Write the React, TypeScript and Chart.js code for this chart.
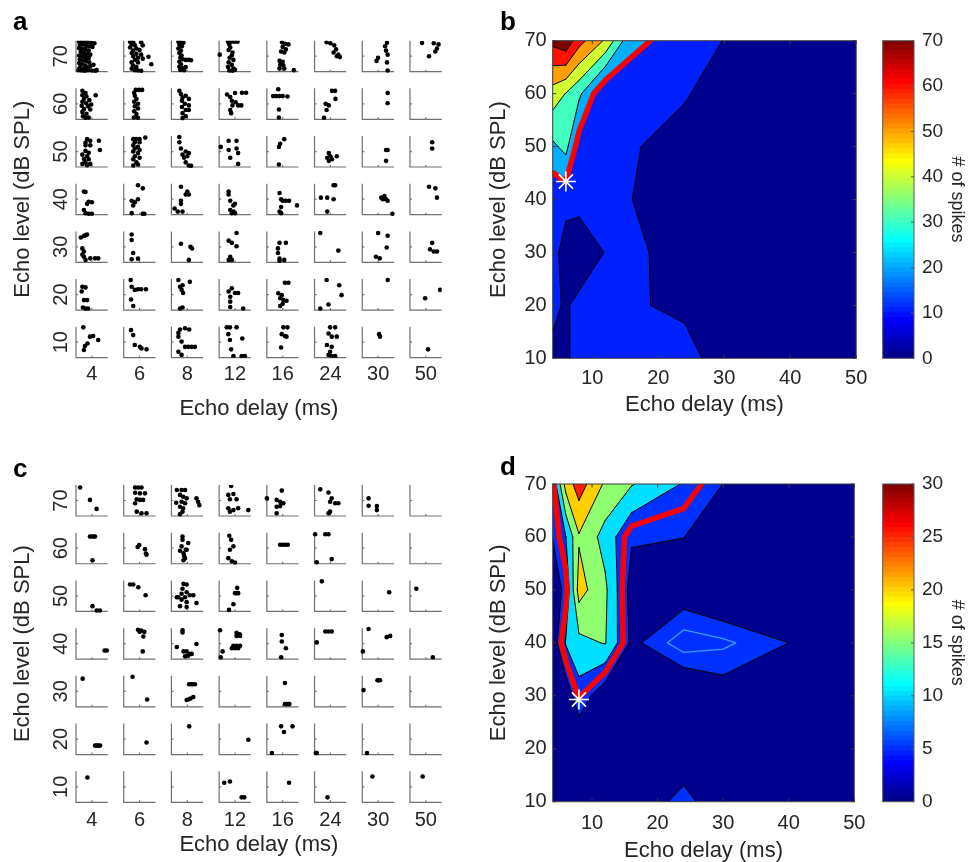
import React, { useEffect, useRef } from "react";
import { Chart, registerables } from "chart.js";
Chart.register(...registerables);

const FONT = '"Liberation Sans", Arial, Helvetica, sans-serif';
const INK = "#262626";
Chart.defaults.font.family = FONT;
Chart.defaults.color = INK;

// ---------------- Raster panels (a, c) ----------------
const delayLabels = ["4", "6", "8", "12", "16", "24", "30", "50"];
const levelLabels = ["10", "20", "30", "40", "50", "60", "70"];
type Pt = [number, number];
// each row: 8 cells (echo delays), each cell: spikes as [time fraction, trial fraction]
const rasterA70: Pt[][] = [
  [[0.1,0.97],[0.18,0.95],[0.28,0.97],[0.38,0.95],[0.48,0.93],[0.58,0.92],[0.12,0.86],[0.22,0.88],[0.32,0.84],[0.42,0.82],[0.52,0.8],[0.1,0.76],[0.2,0.74],[0.3,0.72],[0.4,0.68],[0.15,0.64],[0.25,0.6],[0.35,0.58],[0.45,0.55],[0.1,0.52],[0.2,0.5],[0.3,0.47],[0.4,0.44],[0.12,0.4],[0.22,0.37],[0.32,0.34],[0.42,0.3],[0.1,0.28],[0.2,0.24],[0.3,0.2],[0.45,0.18],[0.55,0.22],[0.12,0.14],[0.25,0.1],[0.38,0.12],[0.08,0.05],[0.18,0.04],[0.28,0.03],[0.38,0.05],[0.5,0.04],[0.6,0.03],[0.65,0.05]],
  [[0.2,0.97],[0.3,0.95],[0.25,0.88],[0.35,0.85],[0.55,0.95],[0.6,0.85],[0.2,0.78],[0.4,0.75],[0.3,0.68],[0.5,0.7],[0.25,0.6],[0.4,0.58],[0.55,0.55],[0.3,0.5],[0.45,0.45],[0.78,0.48],[0.6,0.42],[0.35,0.38],[0.25,0.3],[0.45,0.3],[0.87,0.24],[0.3,0.2],[0.4,0.15],[0.25,0.1],[0.35,0.05],[0.45,0.04],[0.55,0.03]],
  [[0.22,0.97],[0.3,0.95],[0.38,0.93],[0.25,0.87],[0.33,0.82],[0.22,0.75],[0.3,0.68],[0.25,0.6],[0.32,0.52],[0.28,0.45],[0.35,0.4],[0.45,0.38],[0.55,0.38],[0.62,0.37],[0.25,0.32],[0.3,0.24],[0.25,0.16],[0.35,0.12],[0.28,0.06],[0.4,0.05],[0.45,0.15]],
  [[0.02,0.55],[0.28,0.97],[0.38,0.97],[0.48,0.97],[0.58,0.97],[0.32,0.88],[0.35,0.78],[0.3,0.7],[0.42,0.62],[0.4,0.52],[0.33,0.45],[0.45,0.38],[0.3,0.3],[0.4,0.22],[0.28,0.15],[0.45,0.1],[0.32,0.04],[0.42,0.03],[0.5,0.06]],
  [[0.48,0.95],[0.58,0.9],[0.68,0.88],[0.5,0.8],[0.6,0.72],[0.45,0.65],[0.55,0.62],[0.4,0.35],[0.5,0.32],[0.42,0.22],[0.52,0.2],[0.4,0.1],[0.55,0.1],[0.85,0.05]],
  [[0.38,0.95],[0.5,0.92],[0.62,0.85],[0.68,0.72],[0.6,0.62],[0.7,0.5],[0.8,0.47],[0.75,0.55]],
  [[0.78,0.93],[0.72,0.82],[0.75,0.68],[0.8,0.55],[0.5,0.45],[0.45,0.35],[0.78,0.3],[0.8,0.04]],
  [[0.38,0.93],[0.75,0.92],[0.9,0.88],[0.85,0.75],[0.8,0.65],[0.6,0.5]],
];
const rasterA60: Pt[][] = [
  [[0.2,0.92],[0.3,0.85],[0.2,0.78],[0.33,0.74],[0.62,0.78],[0.25,0.66],[0.42,0.62],[0.2,0.57],[0.32,0.52],[0.48,0.48],[0.18,0.44],[0.38,0.42],[0.25,0.33],[0.45,0.32],[0.2,0.24],[0.33,0.18],[0.22,0.1],[0.3,0.05],[0.4,0.06]],
  [[0.38,0.95],[0.48,0.95],[0.58,0.95],[0.33,0.86],[0.35,0.76],[0.4,0.66],[0.33,0.57],[0.45,0.5],[0.35,0.42],[0.45,0.35],[0.33,0.26],[0.4,0.17],[0.32,0.06],[0.45,0.05]],
  [[0.25,0.92],[0.3,0.82],[0.45,0.76],[0.35,0.7],[0.55,0.66],[0.33,0.6],[0.42,0.5],[0.55,0.45],[0.33,0.4],[0.45,0.3],[0.55,0.3],[0.35,0.2],[0.45,0.1],[0.35,0.04]],
  [[0.25,0.8],[0.35,0.72],[0.5,0.85],[0.72,0.86],[0.85,0.86],[0.4,0.6],[0.52,0.55],[0.6,0.45],[0.7,0.45],[0.42,0.45],[0.35,0.3],[0.38,0.2]],
  [[0.36,0.97],[0.2,0.75],[0.3,0.75],[0.4,0.75],[0.5,0.75],[0.65,0.74],[0.38,0.32],[0.38,0.06]],
  [[0.55,0.92],[0.65,0.92],[0.66,0.66],[0.35,0.5],[0.45,0.45],[0.38,0.3],[0.3,0.05]],
  [[0.8,0.85],[0.8,0.52]],
  [],
];
const rasterA50: Pt[][] = [
  [[0.35,0.9],[0.45,0.85],[0.3,0.78],[0.72,0.85],[0.3,0.7],[0.45,0.7],[0.75,0.55],[0.3,0.52],[0.4,0.46],[0.2,0.4],[0.35,0.35],[0.25,0.26],[0.4,0.25],[0.3,0.15],[0.2,0.1],[0.35,0.06],[0.45,0.1]],
  [[0.3,0.9],[0.4,0.9],[0.5,0.9],[0.68,0.95],[0.35,0.8],[0.5,0.8],[0.3,0.7],[0.45,0.65],[0.35,0.6],[0.5,0.55],[0.3,0.5],[0.45,0.45],[0.35,0.35],[0.5,0.3],[0.3,0.25],[0.4,0.15],[0.3,0.05],[0.45,0.08]],
  [[0.25,0.97],[0.25,0.8],[0.3,0.6],[0.45,0.5],[0.55,0.45],[0.35,0.4],[0.5,0.35],[0.4,0.3],[0.45,0.15],[0.55,0.05],[0.62,0.04]],
  [[0.05,0.65],[0.3,0.85],[0.55,0.85],[0.3,0.55],[0.55,0.6],[0.6,0.45],[0.35,0.3],[0.6,0.1]],
  [[0.55,0.9],[0.42,0.75],[0.38,0.65],[0.38,0.08]],
  [[0.45,0.45],[0.5,0.35],[0.4,0.3],[0.55,0.25],[0.7,0.35],[0.45,0.2]],
  [[0.75,0.55],[0.8,0.55],[0.75,0.2]],
  [[0.7,0.8],[0.7,0.6]],
];
const rasterA40: Pt[][] = [
  [[0.25,0.75],[0.3,0.73],[0.4,0.42],[0.5,0.4],[0.35,0.35],[0.25,0.15],[0.3,0.05],[0.4,0.03],[0.5,0.03]],
  [[0.45,0.95],[0.6,0.85],[0.25,0.45],[0.35,0.4],[0.3,0.3],[0.25,0.05],[0.6,0.03],[0.65,0.03],[0.45,0.5]],
  [[0.3,0.9],[0.5,0.75],[0.45,0.65],[0.55,0.65],[0.3,0.45],[0.3,0.35],[0.1,0.2],[0.2,0.1],[0.35,0.1]],
  [[0.3,0.75],[0.3,0.65],[0.35,0.45],[0.45,0.3],[0.5,0.35],[0.35,0.15],[0.4,0.05],[0.5,0.05],[0.45,0.1]],
  [[0.4,0.7],[0.45,0.5],[0.5,0.45],[0.6,0.45],[0.7,0.45],[0.95,0.3],[0.45,0.25],[0.4,0.1],[0.45,0.05]],
  [[0.2,0.55],[0.4,0.55],[0.6,0.5],[0.6,0.95],[0.65,0.95],[0.4,0.1]],
  [[0.6,0.55],[0.7,0.6],[0.75,0.5],[0.8,0.45],[0.65,0.5],[0.95,0.03]],
  [[0.6,0.9],[0.8,0.85],[0.85,0.55]],
];
const rasterA30: Pt[][] = [
  [[0.15,0.8],[0.25,0.85],[0.3,0.88],[0.35,0.9],[0.2,0.45],[0.25,0.35],[0.2,0.25],[0.3,0.08],[0.45,0.13],[0.6,0.13],[0.7,0.13],[0.25,0.18]],
  [[0.25,0.9],[0.25,0.72],[0.3,0.3],[0.25,0.1],[0.45,0.12]],
  [[0.3,0.6],[0.6,0.5],[0.65,0.45],[0.55,0.08]],
  [[0.55,0.95],[0.3,0.7],[0.4,0.63],[0.55,0.52],[0.35,0.18],[0.3,0.08],[0.4,0.08]],
  [[0.4,0.63],[0.6,0.63],[0.35,0.45],[0.35,0.3],[0.4,0.12],[0.55,0.08],[0.4,0.05]],
  [[0.18,0.95],[0.75,0.38]],
  [[0.5,0.95],[0.8,0.86],[0.77,0.48],[0.43,0.18],[0.55,0.13]],
  [[0.7,0.63],[0.63,0.42],[0.75,0.35],[0.85,0.35]],
];
const rasterA20: Pt[][] = [
  [[0.2,0.75],[0.3,0.73],[0.18,0.6],[0.25,0.32],[0.35,0.32],[0.22,0.08],[0.3,0.05],[0.38,0.05]],
  [[0.22,0.97],[0.25,0.75],[0.35,0.65],[0.45,0.67],[0.55,0.67],[0.7,0.67],[0.23,0.34],[0.3,0.13]],
  [[0.22,0.97],[0.58,0.91],[0.27,0.75],[0.35,0.8],[0.32,0.65],[0.37,0.55],[0.27,0.05],[0.35,0.08]],
  [[0.3,0.6],[0.4,0.7],[0.5,0.55],[0.6,0.55],[0.35,0.43],[0.35,0.27],[0.35,0.1],[0.76,0.05]],
  [[0.57,0.88],[0.68,0.88],[0.36,0.54],[0.47,0.48],[0.42,0.38],[0.52,0.32],[0.62,0.3],[0.42,0.13],[0.5,0.2]],
  [[0.38,0.97],[0.78,0.8],[0.85,0.48],[0.44,0.18],[0.18,0.05]],
  [[0.8,0.97]],
  [[0.48,0.38],[0.95,0.65]],
];
const rasterA10: Pt[][] = [
  [[0.23,0.98],[0.44,0.68],[0.54,0.7],[0.7,0.57],[0.36,0.46],[0.28,0.38],[0.25,0.25]],
  [[0.23,0.89],[0.3,0.73],[0.35,0.41],[0.51,0.35],[0.56,0.3],[0.72,0.27]],
  [[0.27,0.91],[0.43,0.95],[0.56,0.91],[0.22,0.8],[0.22,0.68],[0.32,0.52],[0.43,0.35],[0.53,0.35],[0.64,0.35],[0.74,0.35],[0.22,0.19],[0.32,0.09]],
  [[0.24,0.98],[0.34,0.98],[0.55,0.98],[0.29,0.76],[0.34,0.57],[0.73,0.62],[0.38,0.27],[0.45,0.05],[0.71,0.05],[0.81,0.05]],
  [[0.52,0.98],[0.65,0.98],[0.47,0.76],[0.57,0.7],[0.62,0.68],[0.45,0.33]],
  [[0.49,0.98],[0.65,0.98],[0.44,0.78],[0.54,0.68],[0.7,0.68],[0.39,0.41],[0.54,0.35],[0.49,0.19],[0.44,0.09],[0.54,0.05],[0.65,0.05]],
  [[0.53,0.76],[0.56,0.68]],
  [[0.57,0.27]],
];
const rasterA = [rasterA10, rasterA20, rasterA30, rasterA40, rasterA50, rasterA60, rasterA70];

const rasterC70: Pt[][] = [
  [[0.13,0.92],[0.44,0.52],[0.65,0.23]],
  [[0.36,0.92],[0.46,0.92],[0.56,0.92],[0.36,0.75],[0.51,0.73],[0.67,0.73],[0.41,0.54],[0.51,0.52],[0.61,0.52],[0.36,0.41],[0.41,0.14],[0.56,0.09],[0.72,0.09]],
  [[0.17,0.84],[0.32,0.84],[0.43,0.84],[0.27,0.68],[0.37,0.62],[0.48,0.57],[0.15,0.43],[0.32,0.46],[0.43,0.41],[0.27,0.3],[0.37,0.25],[0.35,0.14],[0.27,0.06],[0.79,0.57],[0.84,0.46],[0.88,0.35]],
  [[0.38,0.97],[0.29,0.68],[0.45,0.71],[0.34,0.54],[0.55,0.54],[0.29,0.25],[0.34,0.14],[0.45,0.19],[0.6,0.25],[0.92,0.19]],
  [[0.0,0.57],[0.47,0.82],[0.31,0.52],[0.42,0.46],[0.52,0.41],[0.31,0.3],[0.42,0.32],[0.31,0.09]],
  [[0.18,0.86],[0.44,0.76],[0.54,0.57],[0.49,0.46],[0.65,0.41],[0.75,0.41],[0.49,0.14],[0.44,0.09]],
  [[0.2,0.57],[0.2,0.33],[0.46,0.32],[0.46,0.19]],
  [],
];
const rasterC60: Pt[][] = [
  [[0.44,0.88],[0.5,0.88],[0.56,0.88],[0.6,0.88],[0.52,0.11]],
  [[0.49,0.6],[0.44,0.54],[0.67,0.47],[0.72,0.29],[0.7,0.33]],
  [[0.35,0.88],[0.35,0.77],[0.53,0.67],[0.32,0.56],[0.48,0.45],[0.27,0.42],[0.38,0.34],[0.4,0.25],[0.43,0.18],[0.38,0.11],[0.45,0.45]],
  [[0.32,0.9],[0.38,0.77],[0.45,0.56],[0.34,0.45],[0.29,0.18],[0.4,0.08],[0.5,0.04]],
  [[0.42,0.61],[0.5,0.61],[0.58,0.61],[0.66,0.61]],
  [[0.02,0.95],[0.34,0.95],[0.44,0.95],[0.07,0.05],[0.54,0.15]],
  [],
  [],
];
const rasterC50: Pt[][] = [
  [[0.52,0.17],[0.65,0.03],[0.75,0.03]],
  [[0.2,0.87],[0.3,0.87],[0.46,0.78],[0.69,0.52]],
  [[0.38,0.89],[0.48,0.87],[0.35,0.73],[0.48,0.62],[0.32,0.57],[0.43,0.46],[0.22,0.46],[0.58,0.52],[0.69,0.52],[0.32,0.38],[0.48,0.3],[0.79,0.27],[0.27,0.17],[0.48,0.14],[0.17,0.46]],
  [[0.57,0.76],[0.5,0.59],[0.6,0.59],[0.55,0.59],[0.45,0.23],[0.31,0.05]],
  [],
  [[0.23,0.97]],
  [[0.85,0.62]],
  [[0.2,0.73]],
];
const rasterC40: Pt[][] = [
  [[0.9,0.28],[0.97,0.28]],
  [[0.45,0.95],[0.55,0.92],[0.65,0.88],[0.5,0.88],[0.62,0.73],[0.6,0.25]],
  [[0.35,0.93],[0.35,0.86],[0.17,0.39],[0.38,0.25],[0.48,0.25],[0.56,0.17],[0.64,0.17],[0.43,0.09],[0.53,0.11],[0.79,0.49]],
  [[0.03,0.93],[0.55,0.85],[0.65,0.8],[0.55,0.75],[0.66,0.75],[0.45,0.43],[0.55,0.43],[0.66,0.43],[0.4,0.35],[0.5,0.35],[0.6,0.35],[0.11,0.25],[0.05,0.06]],
  [[0.47,0.78],[0.47,0.57],[0.6,0.35],[0.45,0.06]],
  [[0.07,0.54],[0.34,0.89],[0.44,0.89],[0.54,0.89]],
  [[0.2,0.97],[0.77,0.71],[0.88,0.75],[0.02,0.25]],
  [[0.72,0.06]],
];
const rasterC30: Pt[][] = [
  [[0.21,0.91]],
  [[0.28,0.97],[0.74,0.24]],
  [[0.56,0.73],[0.62,0.73],[0.67,0.73],[0.74,0.73],[0.48,0.22],[0.53,0.24],[0.6,0.27],[0.69,0.32]],
  [],
  [[0.57,0.77],[0.57,0.09],[0.62,0.09],[0.67,0.09],[0.71,0.09]],
  [],
  [[0.04,0.54],[0.48,0.86],[0.52,0.86],[0.56,0.86]],
  [],
];
const rasterC20: Pt[][] = [
  [[0.6,0.29],[0.65,0.29],[0.7,0.29],[0.76,0.29]],
  [[0.72,0.39]],
  [[0.56,0.91]],
  [[0.92,0.48]],
  [[0.45,0.91],[0.54,0.73],[0.81,0.91],[0.16,0.05]],
  [[0.04,0.05],[0.07,0.05]],
  [[0.15,0.05]],
  [],
];
const rasterC10: Pt[][] = [
  [[0.36,0.8]],
  [],
  [],
  [[0.16,0.63],[0.34,0.67],[0.71,0.16],[0.79,0.16]],
  [[0.7,0.63]],
  [[0.41,0.16]],
  [[0.32,0.83]],
  [[0.4,0.83]],
];
const rasterC = [rasterC10, rasterC20, rasterC30, rasterC40, rasterC50, rasterC60, rasterC70];

// ---------------- Contour panels (b, d) ----------------
const gridDelays = [4, 6, 8, 12, 16, 24, 30, 50];
const gridLevels = [10, 20, 30, 40, 50, 60, 70];
// spike counts, one array per echo level (columns follow gridDelays)
const spikesB10 = [8, 7, 17, 14, 13, 13.9, 4.9, 2];
const spikesB20 = [12, 8.9, 12.6, 13, 11.1, 8, 4, 2];
const spikesB30 = [14.1, 5, 3, 10.4, 12.9, 4, 3, 2];
const spikesB40 = [11.7, 13.5, 13.4, 13, 10.05, 4, 3, 2];
const spikesB50 = [28, 33, 15, 12, 11, 5.2, 3, 2];
const spikesB60 = [45.5, 39.6, 32, 10.2, 18.4, 11.06, 4, 3];
const spikesB70 = [73, 77.6, 63.8, 48.5, 20.7, 18.7, 9.5, 3];
const spikesB = [spikesB10, spikesB20, spikesB30, spikesB40, spikesB50, spikesB60, spikesB70];
const contourLevelsB = [10, 20, 30, 40, 50, 60, 70];
const thresholdB = 20;
const bestB = { x: 6, y: 43.4 };
const colorMaxB = 70;
const colorStepB = 10;

const spikesD10 = [1, 0.3, 1, 2, 2.67, 6, 2.8, 1];
const spikesD20 = [0.5, 1.5, 0.2, 1, 2, 2.7, 1.5, 1];
const spikesD30 = [1, 1.7, 8, 1.3, 2, 0.3, 3, 1];
const spikesD40 = [2.1, 10.4, 13.5, 15.3, 3.98, 9.1, 8.1, 1.9];
const spikesD50 = [3.1, 5.9, 22, 16, 3, 2.6, 0.5, 1];
const spikesD60 = [5.1, 9.9, 19.5, 13.1, 5.5, 5.05, 2, 1];
const spikesD70 = [6, 22, 27.5, 19.2, 15.4, 9.6, 4.95, 2];
const spikesD = [spikesD10, spikesD20, spikesD30, spikesD40, spikesD50, spikesD60, spikesD70];
const contourLevelsD = [5, 10, 15, 20, 25];
const thresholdD = 7.5;
const bestD = { x: 8, y: 29.3 };
const colorMaxD = 30;
const colorStepD = 5;

const delayTicks = [10, 20, 30, 40, 50];

// ---------------- helpers ----------------
const CELL_W = 0.665;
const CELL_H = 0.65;

function jet64(i: number) {
  const u = (k: number) => {
    if (k < 1 || k > 47) return 0;
    if (k <= 16) return k / 16;
    if (k <= 31) return 1;
    return (48 - k) / 16;
  };
  const r = u(i - 24), g = u(i - 8), b = u(i + 8);
  return `rgb(${Math.round(r * 255)},${Math.round(g * 255)},${Math.round(b * 255)})`;
}
const levelColor = (v: number, cmax: number) => jet64(Math.min(64, Math.floor((v / cmax) * 64) + 1));

type P = { x: number; y: number; c: boolean };
function eachCell(v: number[][], L: number, cb: (poly: P[], segs: [P, P][], i: number, j: number) => void) {
  for (let j = 0; j < gridLevels.length - 1; j++) {
    for (let i = 0; i < gridDelays.length - 1; i++) {
      const cs = [
        [gridDelays[i], gridLevels[j], v[j][i]],
        [gridDelays[i + 1], gridLevels[j], v[j][i + 1]],
        [gridDelays[i + 1], gridLevels[j + 1], v[j + 1][i + 1]],
        [gridDelays[i], gridLevels[j + 1], v[j + 1][i]],
      ];
      const poly: P[] = [];
      for (let k = 0; k < 4; k++) {
        const p = cs[k], q = cs[(k + 1) % 4];
        if (p[2] >= L) poly.push({ x: p[0], y: p[1], c: false });
        if ((p[2] >= L) !== (q[2] >= L)) {
          const t = (L - p[2]) / (q[2] - p[2]);
          poly.push({ x: p[0] + t * (q[0] - p[0]), y: p[1] + t * (q[1] - p[1]), c: true });
        }
      }
      if (!poly.length) continue;
      const segs: [P, P][] = [];
      for (let k = 0; k < poly.length; k++) {
        const a = poly[k], b = poly[(k + 1) % poly.length];
        if (a.c && b.c) segs.push([a, b]);
      }
      cb(poly, segs, i, j);
    }
  }
}

function components(v: number[][], T: number) {
  const R = v.length, C = v[0].length;
  const lab = v.map((r) => r.map(() => -1));
  let n = 0;
  for (let j = 0; j < R; j++)
    for (let i = 0; i < C; i++) {
      if (v[j][i] < T || lab[j][i] >= 0) continue;
      const st = [[j, i]];
      lab[j][i] = n;
      while (st.length) {
        const [a, b] = st.pop()!;
        for (let da = -1; da <= 1; da++)
          for (let db = -1; db <= 1; db++) {
            const na = a + da, nb = b + db;
            if (na < 0 || nb < 0 || na >= R || nb >= C) continue;
            if (v[na][nb] >= T && lab[na][nb] < 0) {
              lab[na][nb] = n;
              st.push([na, nb]);
            }
          }
      }
      n++;
    }
  return lab;
}

function contourPlugin(grid: number[][], levels: number[], cmax: number, T: number) {
  return {
    id: "contourFill",
    beforeDatasetsDraw(chart: any) {
      const { ctx, chartArea: a, scales } = chart;
      const sx = scales.x, sy = scales.y;
      const X = (p: P) => sx.getPixelForValue(p.x);
      const Y = (p: P) => sy.getPixelForValue(p.y);
      ctx.save();
      ctx.beginPath();
      ctx.rect(a.left, a.top, a.right - a.left, a.bottom - a.top);
      ctx.clip();
      ctx.fillStyle = levelColor(0, cmax);
      ctx.fillRect(a.left, a.top, a.right - a.left, a.bottom - a.top);
      for (const L of levels) {
        ctx.beginPath();
        eachCell(grid, L, (poly) => {
          poly.forEach((p, k) => (k ? ctx.lineTo(X(p), Y(p)) : ctx.moveTo(X(p), Y(p))));
          ctx.closePath();
        });
        ctx.fillStyle = levelColor(L, cmax);
        ctx.fill();
      }
      ctx.lineJoin = "round";
      ctx.lineCap = "round";
      ctx.strokeStyle = "#000";
      ctx.lineWidth = 1;
      for (const L of levels) {
        ctx.beginPath();
        eachCell(grid, L, (_poly, segs) => {
          segs.forEach(([p, q]) => {
            ctx.moveTo(X(p), Y(p));
            ctx.lineTo(X(q), Y(q));
          });
        });
        ctx.stroke();
      }
      // threshold contour: main region red, others light blue
      const lab = components(grid, T);
      let mj = 0, mi = 0;
      grid.forEach((r, j) => r.forEach((val, i) => { if (val > grid[mj][mi]) { mj = j; mi = i; } }));
      const mainId = lab[mj][mi];
      const main: [P, P][] = [], other: [P, P][] = [];
      eachCell(grid, T, (_poly, segs, i, j) => {
        const ids = [lab[j][i], lab[j][i + 1], lab[j + 1][i + 1], lab[j + 1][i]].filter((d) => d >= 0);
        (ids.includes(mainId) ? main : other).push(...segs);
      });
      const strokeSegs = (segs: [P, P][], color: string, w: number) => {
        ctx.beginPath();
        segs.forEach(([p, q]) => {
          ctx.moveTo(X(p), Y(p));
          ctx.lineTo(X(q), Y(q));
        });
        ctx.strokeStyle = color;
        ctx.lineWidth = w;
        ctx.stroke();
      };
      strokeSegs(other, "#3a9cff", 1.3);
      strokeSegs(main, "#ff0000", 5.5);
      ctx.restore();
    },
    afterDraw(chart: any) {
      const { ctx, chartArea: a, scales } = chart;
      ctx.save();
      ctx.strokeStyle = "#3c3c3c";
      ctx.lineWidth = 1;
      ctx.strokeRect(a.left, a.top, a.right - a.left, a.bottom - a.top);
      ctx.beginPath();
      scales.x.ticks.forEach((t: any) => {
        const px = scales.x.getPixelForValue(t.value);
        ctx.moveTo(px, a.bottom); ctx.lineTo(px, a.bottom - 3.5);
        ctx.moveTo(px, a.top); ctx.lineTo(px, a.top + 3.5);
      });
      scales.y.ticks.forEach((t: any) => {
        const py = scales.y.getPixelForValue(t.value);
        ctx.moveTo(a.left, py); ctx.lineTo(a.left + 3.5, py);
        ctx.moveTo(a.right, py); ctx.lineTo(a.right - 3.5, py);
      });
      ctx.stroke();
      ctx.restore();
    },
  };
}

const rasterFrame = {
  id: "rasterFrame",
  beforeDatasetsDraw(chart: any) {
    const { ctx, scales } = chart;
    const sx = scales.x, sy = scales.y;
    ctx.save();
    ctx.strokeStyle = "#707070";
    ctx.lineWidth = 1.2;
    ctx.beginPath();
    for (let r = 0; r < levelLabels.length; r++)
      for (let c = 0; c < delayLabels.length; c++) {
        const x0 = sx.getPixelForValue(c), x1 = sx.getPixelForValue(c + CELL_W);
        const y0 = sy.getPixelForValue(r), y1 = sy.getPixelForValue(r + CELL_H);
        ctx.moveTo(x0, y1); ctx.lineTo(x0, y0); ctx.lineTo(x1, y0);
        const xm = (x0 + x1) / 2, ym = (y0 + y1) / 2;
        ctx.moveTo(xm, y0); ctx.lineTo(xm, y0 - 2);
        ctx.moveTo(x0, ym); ctx.lineTo(x0 + 2, ym);
      }
    ctx.stroke();
    ctx.restore();
  },
  afterDraw(chart: any) {
    const { ctx, scales, chartArea } = chart;
    ctx.save();
    ctx.fillStyle = INK;
    ctx.font = `20px ${FONT}`;
    ctx.textAlign = "center";
    ctx.textBaseline = "middle";
    levelLabels.forEach((lab, r) => {
      const py = scales.y.getPixelForValue(r + CELL_H / 2);
      ctx.save();
      ctx.translate(chartArea.left - 15.5, py);
      ctx.rotate(-Math.PI / 2);
      ctx.fillText(lab, 0, 1);
      ctx.restore();
    });
    ctx.restore();
  },
};

const colorbarFrame = {
  id: "colorbarFrame",
  afterDraw(chart: any) {
    const { ctx, chartArea: a, scales } = chart;
    ctx.save();
    ctx.strokeStyle = "#555";
    ctx.lineWidth = 1;
    ctx.strokeRect(a.left, a.top, a.right - a.left, a.bottom - a.top);
    ctx.beginPath();
    scales.y.ticks.forEach((t: any) => {
      const py = scales.y.getPixelForValue(t.value);
      ctx.moveTo(a.right, py); ctx.lineTo(a.right - 3, py);
    });
    ctx.stroke();
    ctx.restore();
  },
};

const tickFont = { family: FONT, size: 20 };
const titleFont = { family: FONT, size: 22, lineHeight: 1 };

function rasterConfig(raster: Pt[][][], g: { padTop: number; xAxisH: number; tickPad: number; titlePad: number }) {
  const pts: { x: number; y: number }[] = [];
  raster.forEach((row, r) =>
    row.forEach((cell, c) => cell.forEach(([u, v]) => pts.push({ x: c + u * CELL_W, y: r + v * CELL_H })))
  );
  return {
    type: "scatter",
    data: { datasets: [{ data: pts, pointRadius: 2.3, pointBackgroundColor: "#000", pointBorderWidth: 0, pointHoverRadius: 2.3 }] },
    options: {
      animation: false,
      responsive: false,
      events: [],
      layout: { padding: { top: g.padTop, right: 28.3, left: 0, bottom: 0 } },
      plugins: { legend: { display: false }, tooltip: { enabled: false } },
      scales: {
        x: {
          type: "linear",
          min: 0,
          max: delayLabels.length - 1 + CELL_W,
          grid: { display: false, drawTicks: false },
          border: { display: false },
          afterBuildTicks: (s: any) => { s.ticks = delayLabels.map((_, i) => ({ value: i + CELL_W / 2 })); },
          ticks: { callback: (_v: any, i: number) => delayLabels[i], font: tickFont, color: INK, padding: g.tickPad, maxRotation: 0, autoSkip: false },
          title: { display: true, text: "Echo delay (ms)", font: titleFont, color: INK, padding: { top: 0, bottom: g.titlePad } },
          afterFit: (s: any) => { s.height = g.xAxisH; },
        },
        y: {
          type: "linear",
          min: 0,
          max: levelLabels.length - 1 + CELL_H,
          grid: { display: false, drawTicks: false },
          border: { display: false },
          ticks: { display: false },
          title: { display: true, text: "Echo level (dB SPL)", font: titleFont, color: INK, padding: { top: 11.5, bottom: 0 } },
          afterFit: (s: any) => { s.width = 76; },
        },
      },
    },
    plugins: [rasterFrame],
  };
}

function contourConfig(grid: number[][], levels: number[], cmax: number, T: number, best: { x: number; y: number },
  g: { padTop: number; xAxisH: number; tickPad: number; titlePad: number }) {
  return {
    type: "scatter",
    data: {
      datasets: [{ data: [best], pointStyle: "star", pointRadius: 10, pointHoverRadius: 10, pointBorderColor: "#ffffff", pointBorderWidth: 1.6, pointBackgroundColor: "#ffffff" }],
    },
    options: {
      animation: false,
      responsive: false,
      events: [],
      layout: { padding: { top: g.padTop, right: 15.7, left: 0, bottom: 0 } },
      plugins: { legend: { display: false }, tooltip: { enabled: false } },
      scales: {
        x: {
          type: "linear",
          min: 4,
          max: 50,
          grid: { display: false, drawTicks: false },
          border: { display: false },
          afterBuildTicks: (s: any) => { s.ticks = delayTicks.map((v) => ({ value: v })); },
          ticks: { font: tickFont, color: INK, padding: g.tickPad, maxRotation: 0, autoSkip: false },
          title: { display: true, text: "Echo delay (ms)", font: titleFont, color: INK, padding: { top: 0, bottom: g.titlePad } },
          afterFit: (s: any) => { s.height = g.xAxisH; },
        },
        y: {
          type: "linear",
          min: 10,
          max: 70,
          grid: { display: false, drawTicks: false },
          border: { display: false },
          ticks: { stepSize: 10, font: tickFont, color: INK, padding: 6 },
          title: { display: true, text: "Echo level (dB SPL)", font: titleFont, color: INK, padding: { top: 8, bottom: 0 } },
          afterFit: (s: any) => { s.width = 72.7; },
        },
      },
    },
    plugins: [contourPlugin(grid, levels, cmax, T)],
  };
}

function colorbarConfig(cmax: number, step: number, padTop: number, padBottom: number) {
  const segs = Array.from({ length: 64 }, (_, k) => k);
  return {
    type: "bar",
    data: {
      labels: [""],
      datasets: segs.map((k) => ({
        data: [[(k * cmax) / 64, Math.min(cmax, ((k + 1.25) * cmax) / 64)]],
        backgroundColor: jet64(k + 1),
        borderWidth: 0,
        grouped: false,
        barPercentage: 1,
        categoryPercentage: 1,
      })),
    },
    options: {
      animation: false,
      responsive: false,
      events: [],
      layout: { padding: { top: padTop, bottom: padBottom, left: 12.7, right: 0 } },
      plugins: { legend: { display: false }, tooltip: { enabled: false } },
      scales: {
        x: { display: false },
        y: {
          position: "right",
          min: 0,
          max: cmax,
          grid: { display: false, drawTicks: false },
          border: { display: false },
          ticks: { stepSize: step, font: { family: FONT, size: 19 }, color: INK, padding: 8 },
          title: { display: true, text: "# of spikes", font: { family: FONT, size: 18, lineHeight: 1 }, color: INK, padding: { top: 13.3, bottom: 0 } },
          afterFit: (s: any) => { s.width = 65; },
        },
      },
    },
    plugins: [colorbarFrame],
  };
}

function ChartCanvas({ left, top, width, height, build }: { left: number; top: number; width: number; height: number; build: () => any }) {
  const ref = useRef<HTMLCanvasElement>(null);
  useEffect(() => {
    const chart = new Chart(ref.current as HTMLCanvasElement, build());
    return () => chart.destroy();
  }, []);
  return <canvas ref={ref} width={width} height={height} style={{ position: "absolute", left, top, width, height }} />;
}

function Letter({ text, left, top }: { text: string; left: number; top: number }) {
  return (
    <div style={{ position: "absolute", left, top, font: `bold 26px ${FONT}`, lineHeight: "26px", color: "#000" }}>{text}</div>
  );
}

export default function App() {
  return (
    <div style={{ position: "absolute", left: 0, top: 0, width: 979, height: 862, overflow: "hidden", background: "#fff" }}>
      <ChartCanvas left={0} top={0} width={470} height={430}
        build={() => rasterConfig(rasterA, { padTop: 40.7, xAxisH: 72.3, tickPad: 4.3, titlePad: 10 })} />
      <ChartCanvas left={480} top={0} width={395} height={430}
        build={() => contourConfig(spikesB, contourLevelsB, colorMaxB, thresholdB, bestB, { padTop: 40.7, xAxisH: 71.7, tickPad: 7.7, titlePad: 14 })} />
      <ChartCanvas left={870} top={0} width={109} height={430}
        build={() => colorbarConfig(colorMaxB, colorStepB, 40.7, 71.7)} />
      <ChartCanvas left={0} top={440} width={470} height={422}
        build={() => rasterConfig(rasterC, { padTop: 45, xAxisH: 59.7, tickPad: 5.7, titlePad: 6 })} />
      <ChartCanvas left={480} top={440} width={395} height={422}
        build={() => contourConfig(spikesD, contourLevelsD, colorMaxD, thresholdD, bestD, { padTop: 44, xAxisH: 60.3, tickPad: 9.6, titlePad: 0 })} />
      <ChartCanvas left={870} top={440} width={109} height={422}
        build={() => colorbarConfig(colorMaxD, colorStepD, 44, 60.3)} />
      <Letter text="a" left={13} top={8} />
      <Letter text="b" left={500} top={8} />
      <Letter text="c" left={13} top={455} />
      <Letter text="d" left={500} top={453} />
    </div>
  );
}
